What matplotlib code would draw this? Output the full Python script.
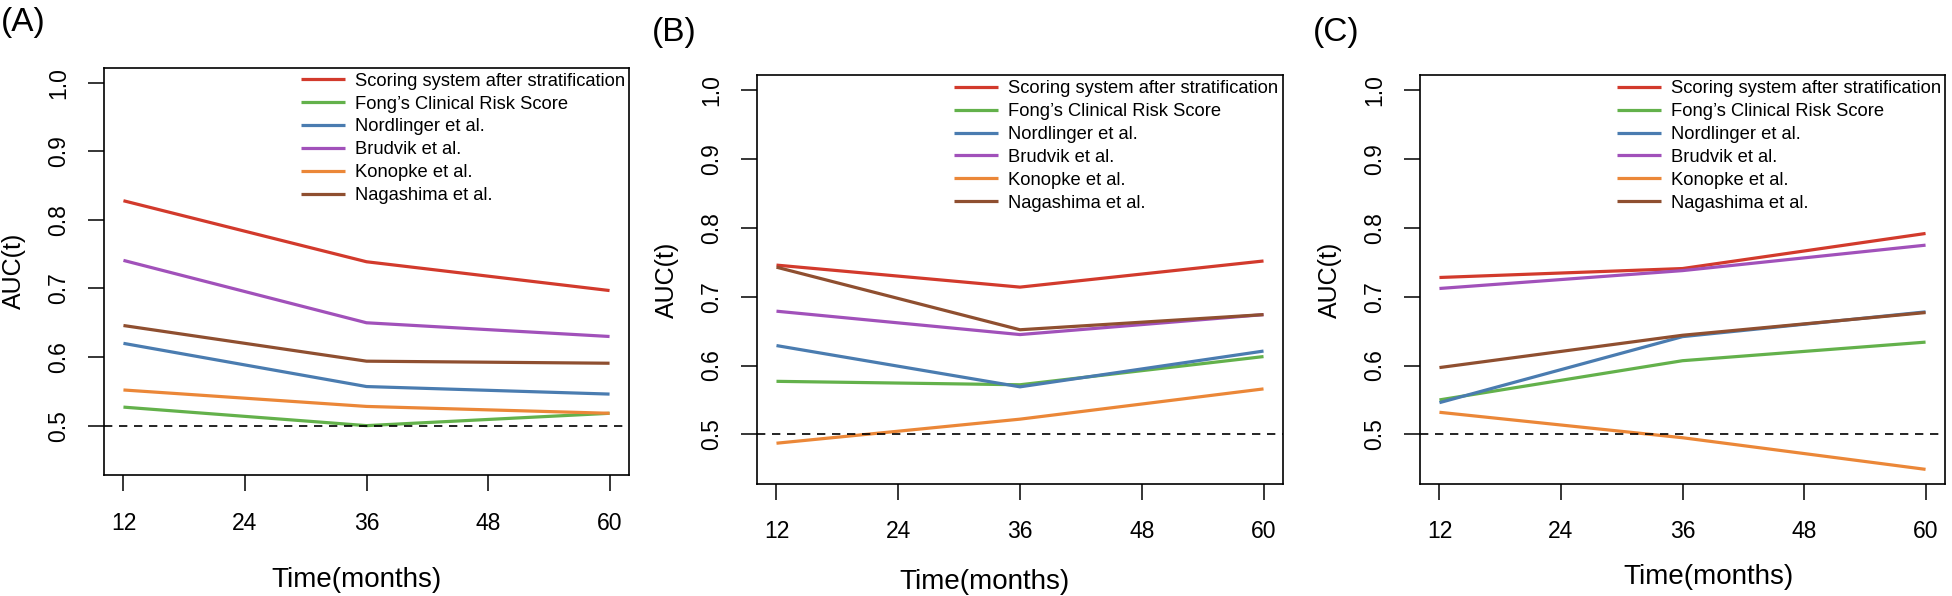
import numpy as np
import matplotlib
matplotlib.use("Agg")
import matplotlib.pyplot as plt

plt.rcParams['font.family'] = ['Liberation Sans', 'DejaVu Sans']

# Data
months = [12, 36, 60]
labels = ["Scoring system after stratification", "Fong\u2019s Clinical Risk Score",
          "Nordlinger et al.", "Brudvik et al.", "Konopke et al.", "Nagashima et al."]
colors = ["#D23A2C", "#63B14B", "#4A7CB0", "#A151BA", "#EB8738", "#8F4F30"]

# order: scoring, fong, nordlinger, brudvik, konopke, nagashima
auc_a = [
    [0.828, 0.739, 0.697],
    [0.527, 0.500, 0.518],
    [0.620, 0.557, 0.546],
    [0.741, 0.650, 0.630],
    [0.552, 0.528, 0.518],
    [0.646, 0.594, 0.591],
]
auc_b = [
    [0.746, 0.714, 0.752],
    [0.577, 0.572, 0.613],
    [0.629, 0.569, 0.621],
    [0.679, 0.645, 0.674],
    [0.487, 0.522, 0.566],
    [0.743, 0.652, 0.674],
]
auc_c = [
    [0.728, 0.741, 0.792],
    [0.550, 0.607, 0.634],
    [0.546, 0.642, 0.678],
    [0.712, 0.738, 0.775],
    [0.532, 0.495, 0.449],
    [0.597, 0.644, 0.677],
]
panels = ["(A)", "(B)", "(C)"]
xticks = [12, 24, 36, 48, 60]
yticks = [0.5, 0.6, 0.7, 0.8, 0.9, 1.0]

W, H = 1952, 596
fig = plt.figure(figsize=(W / 100, H / 100), dpi=100)

# pixel boxes: left, top, right, bottom
boxes = [(104, 67.7, 629, 475), (757, 75.3, 1283, 483.8), (1420, 75.3, 1945, 483.8)]
panel_pos = [(23, 22), (674, 32), (1336, 32)]
time_pos = [(356, 580), (985, 582), (1708, 577)]

for i, data in enumerate([auc_a, auc_b, auc_c]):
    l, t, r, b = boxes[i]
    ax = fig.add_axes([l / W, 1 - b / H, (r - l) / W, (b - t) / H])
    for vals, lab, col in zip(data, labels, colors):
        ax.plot(months, vals, color=col, lw=2.3, label=lab, solid_capstyle='butt')
    ax.axhline(0.5, color='black', lw=1.2, linestyle=(0, (5, 4)))
    ax.set_xlim(10.08, 61.92)
    ax.set_ylim(0.428, 1.022)
    ax.set_xticks(xticks)
    ax.set_yticks(yticks)
    ax.set_yticklabels([f"{v:.1f}" for v in yticks], rotation=90, va='center')
    ax.tick_params(axis='both', direction='out', length=11.3, width=1.1, labelsize=16.5)
    ax.tick_params(axis='x', pad=15)
    ax.tick_params(axis='y', pad=13)
    for sp in ax.spines.values():
        sp.set_linewidth(1.2)

    ax.set_ylabel("AUC(t)", fontsize=18)
    ax.yaxis.set_label_coords(-78 / (r - l), 0.5)

    tx, ty = time_pos[i]
    fig.text(tx / W, 1 - ty / H, "Time(months)", fontsize=20, ha='center', va='center')
    px, py = panel_pos[i]
    fig.text(px / W, 1 - py / H, panels[i], fontsize=24, ha='center', va='center')

    ax.legend(loc='upper left', bbox_to_anchor=(197 / (r - l), 1 - 5 / (b - t)),
              frameon=False, fontsize=13.2, handlelength=2.4, handletextpad=0.55,
              labelspacing=0.32, borderpad=0, borderaxespad=0)

fig.savefig("out.png", dpi=100)
